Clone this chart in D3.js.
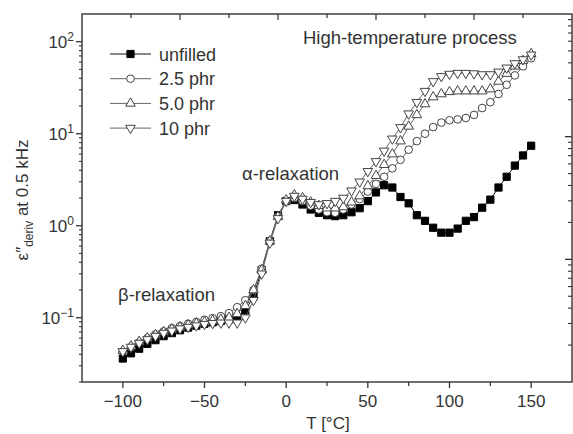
<!DOCTYPE html>
<html>
<head>
<meta charset="utf-8">
<script src="https://cdn.jsdelivr.net/npm/d3@7"></script>
<style>
  body { margin: 0; background: #fff; }
  text { font-family: "Liberation Sans", Arial, sans-serif; fill: #333; }
</style>
</head>
<body>
<script>
const width = 573;
const height = 434;

// Temperatures (°C), one reading every 5 degrees
const temps = d3.range(-100, 151, 5);

// eps'' deriv at 0.5 kHz
const unfilled = [0.036, 0.041, 0.046, 0.052, 0.057, 0.063, 0.068, 0.073, 0.078, 0.082,
  0.086, 0.089, 0.092, 0.096, 0.100, 0.12, 0.17, 0.33, 0.68, 1.3,
  1.85, 1.9, 1.7, 1.5, 1.38, 1.3, 1.27, 1.3, 1.4, 1.55,
  1.85, 2.3, 2.75, 2.6, 2.05, 1.75, 1.3, 1.13, 0.95, 0.84,
  0.84, 0.93, 1.13, 1.24, 1.57, 1.92, 2.6, 3.4, 4.5, 5.8, 7.4];
const phr25 = [0.043, 0.048, 0.054, 0.060, 0.066, 0.071, 0.077, 0.081, 0.086, 0.090,
  0.095, 0.099, 0.104, 0.112, 0.13, 0.155, 0.2, 0.34, 0.68, 1.25,
  1.85, 2.0, 1.85, 1.65, 1.5, 1.4, 1.38, 1.5, 1.7, 1.95,
  2.35, 2.85, 3.4, 4.2, 5.2, 6.7, 8.3, 10, 11.8, 13.2,
  14, 14.3, 14.8, 16, 19, 22, 27, 34, 43, 54, 66];
const phr50 = [0.044, 0.049, 0.055, 0.060, 0.065, 0.070, 0.075, 0.079, 0.083, 0.087,
  0.090, 0.093, 0.096, 0.100, 0.11, 0.135, 0.2, 0.33, 0.68, 1.25,
  1.9, 2.15, 2.0, 1.8, 1.65, 1.55, 1.55, 1.6, 1.8, 2.1,
  2.7, 3.5, 4.6, 6.0, 8.3, 12, 16, 21, 25, 27,
  28.5, 29, 29, 29, 29, 30.5, 37, 45, 54, 62, 74];
const phr10 = [0.043, 0.048, 0.053, 0.058, 0.063, 0.068, 0.072, 0.076, 0.079, 0.082,
  0.085, 0.087, 0.088, 0.088, 0.088, 0.1, 0.155, 0.3, 0.65, 1.2,
  1.85, 2.1, 1.95, 1.8, 1.7, 1.75, 1.85, 2.0, 2.4, 3.0,
  3.9, 5.0, 6.5, 8.8, 11.7, 16.5, 22, 29, 37, 42,
  44.5, 45.5, 45.5, 45, 44, 44, 47, 52, 58, 64, 72];

const seriesNames = ["unfilled", "2.5 phr", "5.0 phr", "10 phr"];
const xTickValues = [-100, -50, 0, 50, 100, 150];
const xMinorValues = [-75, -25, 25, 75, 125];
const yTickExps = [-1, 0, 1, 2];

const margin = { top: 14, right: 1, bottom: 52, left: 82 };
const x = d3.scaleLinear().domain([-125, 175]).range([margin.left, width - margin.right]);
const y = d3.scaleLog().domain([0.02, 200]).range([height - margin.bottom, margin.top]);
// unlabelled mirror axes on top and right
const xTop = d3.scaleLinear().domain([0, 10]).range(x.range());
const yRight = d3.scaleLog().domain([1, 1000]).range(y.range());

const svg = d3.select("body").append("svg")
    .attr("width", width)
    .attr("height", height);

const axisColor = "#333";

// Frame
svg.append("rect")
    .attr("x", x.range()[0]).attr("y", y.range()[1])
    .attr("width", x.range()[1] - x.range()[0])
    .attr("height", y.range()[0] - y.range()[1])
    .attr("fill", "none").attr("stroke", axisColor).attr("stroke-width", 1.4);

const x0 = x.range()[0], x1 = x.range()[1];
const y0 = y.range()[0], y1 = y.range()[1];

// Bottom ticks (outward)
svg.selectAll(".xmaj").data(xTickValues).enter().append("line")
    .attr("x1", d => x(d)).attr("x2", d => x(d))
    .attr("y1", y0).attr("y2", y0 + 6)
    .attr("stroke", axisColor).attr("stroke-width", 1.3);
svg.selectAll(".xmin").data(xMinorValues).enter().append("line")
    .attr("x1", d => x(d)).attr("x2", d => x(d))
    .attr("y1", y0).attr("y2", y0 + 4)
    .attr("stroke", axisColor).attr("stroke-width", 1.2);
svg.selectAll(".xlab").data(xTickValues).enter().append("text")
    .attr("x", d => x(d)).attr("y", y0 + 25)
    .attr("text-anchor", "middle")
    .attr("font-size", 17)
    .text(d => d < 0 ? "\u2212" + Math.abs(d) : d);

// Top ticks (inward)
svg.selectAll(".xtop").data(d3.range(1, 10)).enter().append("line")
    .attr("x1", d => xTop(d)).attr("x2", d => xTop(d))
    .attr("y1", y1).attr("y2", d => y1 + (d % 2 === 0 ? 6 : 4))
    .attr("stroke", axisColor).attr("stroke-width", 1.2);

// Left ticks (outward), log majors and minors
const leftMinors = [];
[-2, -1, 0, 1].forEach(e => {
  for (let m = 2; m <= 9; m++) {
    const v = m * Math.pow(10, e);
    if (v >= 0.02 && v <= 200) leftMinors.push(v);
  }
});
svg.selectAll(".ymin").data(leftMinors).enter().append("line")
    .attr("x1", x0).attr("x2", x0 - 3)
    .attr("y1", d => y(d)).attr("y2", d => y(d))
    .attr("stroke", axisColor).attr("stroke-width", 1.1);
svg.selectAll(".ymaj").data(yTickExps).enter().append("line")
    .attr("x1", x0).attr("x2", x0 - 6)
    .attr("y1", d => y(Math.pow(10, d))).attr("y2", d => y(Math.pow(10, d)))
    .attr("stroke", axisColor).attr("stroke-width", 1.3);
const ylab = svg.selectAll(".ylab").data(yTickExps).enter().append("text")
    .attr("x", x0 - 8).attr("y", d => y(Math.pow(10, d)) + 6)
    .attr("text-anchor", "end")
    .attr("font-size", 17);
ylab.append("tspan").text("10");
ylab.append("tspan").attr("dy", -7).attr("font-size", 12)
    .text(d => d < 0 ? "\u2212" + Math.abs(d) : d);

// Right ticks (inward)
const rightMinors = [];
[0, 1, 2].forEach(e => {
  for (let m = 2; m <= 9; m++) rightMinors.push(m * Math.pow(10, e));
});
svg.selectAll(".rmin").data(rightMinors).enter().append("line")
    .attr("x1", x1).attr("x2", x1 - 4)
    .attr("y1", d => yRight(d)).attr("y2", d => yRight(d))
    .attr("stroke", axisColor).attr("stroke-width", 1.1);
svg.selectAll(".rmaj").data([10, 100]).enter().append("line")
    .attr("x1", x1).attr("x2", x1 - 7)
    .attr("y1", d => yRight(d)).attr("y2", d => yRight(d))
    .attr("stroke", axisColor).attr("stroke-width", 1.3);

// Axis titles
svg.append("text")
    .attr("x", (x0 + x1) / 2 + 1).attr("y", 429)
    .attr("text-anchor", "middle").attr("font-size", 17)
    .text("T [\u00B0C]");
const yTitle = svg.append("text")
    .attr("transform", `translate(28,${(y0 + y1) / 2 + 2}) rotate(-90)`)
    .attr("text-anchor", "middle").attr("font-size", 17);
yTitle.append("tspan").text("\u03B5\u2033");
yTitle.append("tspan").attr("dy", 5).attr("font-size", 12).text("deriv");
yTitle.append("tspan").attr("dy", -5).text(" at 0.5 kHz");

// Series
const series = [
  { name: seriesNames[0], values: unfilled, symbol: d3.symbolSquare, size: 52, fill: "#000", stroke: "#000", line: "#111", rot: 0 },
  { name: seriesNames[1], values: phr25, symbol: d3.symbolCircle, size: 46, fill: "#fff", stroke: "#444", line: "#666", rot: 0 },
  { name: seriesNames[2], values: phr50, symbol: d3.symbolTriangle, size: 40, fill: "#fff", stroke: "#444", line: "#666", rot: 0 },
  { name: seriesNames[3], values: phr10, symbol: d3.symbolTriangle, size: 40, fill: "#fff", stroke: "#444", line: "#666", rot: 180 }
];

const line = d3.line()
    .x((d, i) => x(temps[i]))
    .y(d => y(d));

series.forEach(s => {
  svg.append("path")
      .datum(s.values)
      .attr("d", line)
      .attr("fill", "none")
      .attr("stroke", s.line)
      .attr("stroke-width", 1);
  svg.selectAll(null).data(s.values).enter().append("path")
      .attr("d", d3.symbol().type(s.symbol).size(s.size))
      .attr("transform", (d, i) => `translate(${x(temps[i])},${y(d)}) rotate(${s.rot})`)
      .attr("fill", s.fill)
      .attr("stroke", s.stroke)
      .attr("stroke-width", 1);
});

// Legend
const legend = svg.append("g").attr("transform", "translate(110,54)");
series.forEach((s, i) => {
  const g = legend.append("g").attr("transform", `translate(0,${i * 24.7})`);
  g.append("line").attr("x1", 0).attr("x2", 41).attr("y1", 0).attr("y2", 0)
      .attr("stroke", s.line).attr("stroke-width", 1);
  g.append("path")
      .attr("d", d3.symbol().type(s.symbol).size(s.size))
      .attr("transform", `translate(20.5,0) rotate(${s.rot})`)
      .attr("fill", s.fill).attr("stroke", s.stroke).attr("stroke-width", 1);
  g.append("text").attr("x", 49).attr("y", 6.5)
      .attr("font-size", 18).text(s.name);
});

// Annotations
svg.append("text").attr("x", 303).attr("y", 44).attr("font-size", 18.5)
    .text("High-temperature process");
svg.append("text").attr("x", 242).attr("y", 180).attr("font-size", 18.5)
    .text("\u03B1-relaxation");
svg.append("text").attr("x", 118).attr("y", 301).attr("font-size", 18.5)
    .text("\u03B2-relaxation");
</script>
</body>
</html>
